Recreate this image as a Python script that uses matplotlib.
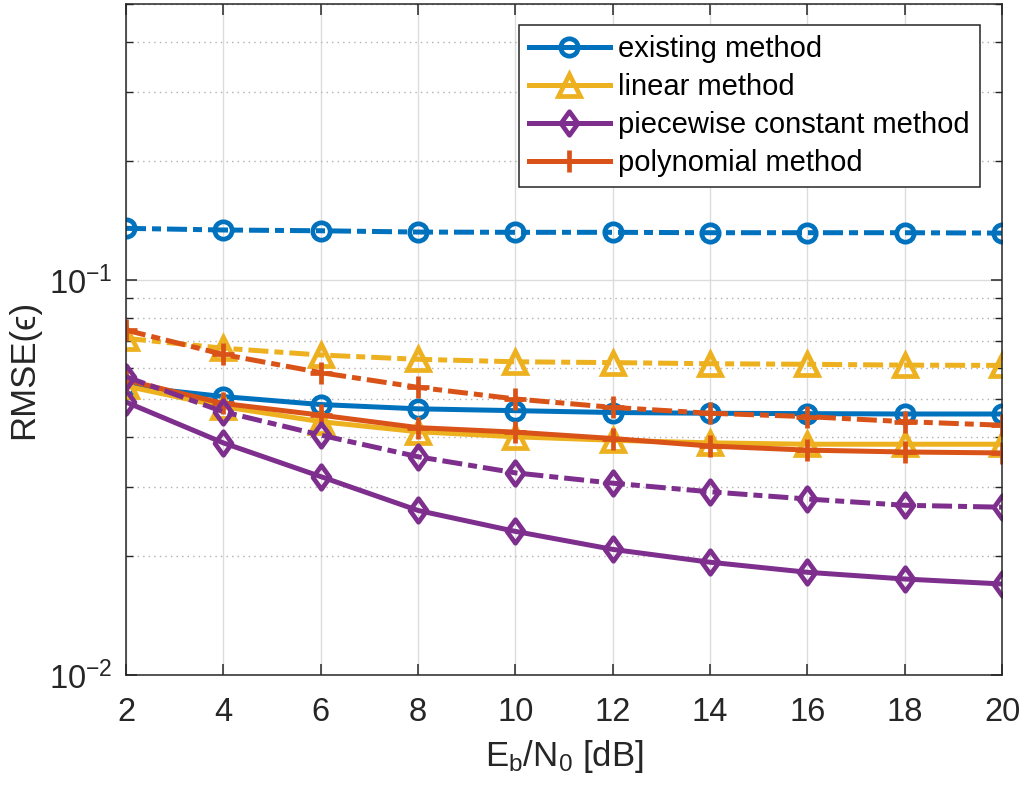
import numpy as np
import matplotlib
matplotlib.use("Agg")
import matplotlib.pyplot as plt
from matplotlib.path import Path
from matplotlib.ticker import LogLocator, NullFormatter, FixedLocator

plt.rcParams['font.family'] = ['Liberation Sans', 'DejaVu Sans']
plt.rcParams['mathtext.fontset'] = 'custom'
plt.rcParams['mathtext.rm'] = 'Liberation Sans'
plt.rcParams['mathtext.it'] = 'Liberation Sans:italic'
plt.rcParams['mathtext.bf'] = 'Liberation Sans:bold'

# ---- data ----
ebn0 = [2, 4, 6, 8, 10, 12, 14, 16, 18, 20]

existing_solid = [0.0539, 0.0507, 0.0484, 0.0472, 0.0467, 0.0462, 0.0460, 0.0459, 0.0458, 0.0458]
existing_dash = [0.1352, 0.1339, 0.1333, 0.1323, 0.1321, 0.1321, 0.1318, 0.1318, 0.1318, 0.1315]

linear_solid = [0.0539, 0.0478, 0.0438, 0.0413, 0.0401, 0.0393, 0.0387, 0.0384, 0.0384, 0.0384]
linear_dash = [0.0712, 0.0672, 0.0646, 0.0630, 0.0621, 0.0618, 0.0614, 0.0612, 0.0609, 0.0608]

piecewise_solid = [0.0491, 0.0387, 0.0318, 0.0261, 0.0231, 0.0208, 0.0193, 0.0182, 0.0175, 0.0170]
piecewise_dash = [0.0569, 0.0464, 0.0405, 0.0357, 0.0325, 0.0306, 0.0291, 0.0279, 0.0269, 0.0266]

poly_solid = [0.0558, 0.0487, 0.0455, 0.0423, 0.0412, 0.0397, 0.0380, 0.0371, 0.0367, 0.0365]
poly_dash = [0.0747, 0.0648, 0.0583, 0.0535, 0.0500, 0.0476, 0.0460, 0.0451, 0.0438, 0.0429]

labels = ['existing method', 'linear method', 'piecewise constant method', 'polynomial method']

# ---- style ----
c_blue = '#0072BD'
c_yellow = '#EDB120'
c_purple = '#7E2F8E'
c_orange = '#D95319'
lw = 3.6
dashdot = (0, (4.0, 1.2, 1.8, 1.2))
diamond = Path([(0, 1), (0.72, 0), (0, -1), (-0.72, 0), (0, 1)],
               [Path.MOVETO, Path.LINETO, Path.LINETO, Path.LINETO, Path.CLOSEPOLY])

fig = plt.figure(figsize=(10.27, 7.89), dpi=100)
ax = fig.add_axes([0.1227, 0.1445, 0.853, 0.8504])

series = [
    (existing_solid, existing_dash, c_blue, 'o', 12.5),
    (linear_solid, linear_dash, c_yellow, '^', 15.5),
    (piecewise_solid, piecewise_dash, c_purple, diamond, 17),
    (poly_solid, poly_dash, c_orange, '+', 16),
]
for (ys, yd, col, mk, ms), lab in zip(series, labels):
    ax.plot(ebn0, ys, color=col, lw=lw, marker=mk, ms=ms, mew=3.4,
            mfc='none', mec=col, label=lab)
for (ys, yd, col, mk, ms), lab in zip(series, labels):
    ax.plot(ebn0, yd, color=col, lw=lw, ls=dashdot, marker=mk, ms=ms, mew=3.4,
            mfc='none', mec=col)

ax.set_yscale('log')
ax.set_xlim(2, 20)
ax.set_ylim(0.01, 0.5)
ax.xaxis.set_major_locator(FixedLocator(ebn0))
ax.yaxis.set_major_locator(LogLocator(base=10, numticks=10))
ax.yaxis.set_minor_locator(LogLocator(base=10, subs=np.arange(2, 10), numticks=20))
ax.yaxis.set_minor_formatter(NullFormatter())

ax.grid(True, which='major', axis='both', color='#dcdcdc', lw=1.0, ls='-')
ax.grid(True, which='minor', axis='y', color='#b0b0b0', lw=1.0, ls=(0, (1, 3)))
ax.set_axisbelow(True)

for sp in ax.spines.values():
    sp.set_color('#262626')
    sp.set_linewidth(1.1)
ax.tick_params(which='both', direction='in', top=True, right=True, colors='#262626',
               labelcolor='#262626', labelsize=23.5)
ax.tick_params(axis='x', which='major', pad=16)
ax.tick_params(axis='y', which='major', pad=10)
ax.tick_params(which='major', length=8, width=1.1)
ax.tick_params(which='minor', length=5, width=1.0)

ax.set_xlabel(r'E$_\mathrm{b}$/N$_\mathrm{0}$ [dB]', fontsize=25, color='#262626', labelpad=7)
ax.set_ylabel('RMSE(ϵ)', fontsize=25, color='#262626')
ax.yaxis.set_label_coords(-0.098, 0.455)

leg = ax.legend(loc='upper right', bbox_to_anchor=(0.975, 0.969), borderaxespad=0,
                fontsize=21, frameon=True, fancybox=False, framealpha=1,
                edgecolor='#262626', handlelength=2.75, handletextpad=0.3,
                labelspacing=0.34, borderpad=0.35)
leg.get_frame().set_linewidth(1.1)

fig.savefig('out.png', dpi=100)
